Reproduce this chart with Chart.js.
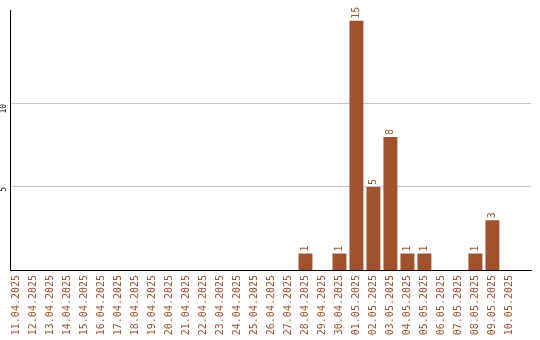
<!DOCTYPE html>
<html>
<head>
<meta charset="utf-8">
<script src="https://cdn.jsdelivr.net/npm/chart.js@4.4.1/dist/chart.umd.min.js"></script>
<style>
  html, body { margin: 0; padding: 0; background: #fff; }
  #wrap { width: 540px; height: 340px; }
</style>
</head>
<body>
<div id="wrap"><canvas id="barChart"></canvas></div>
<script>
const dates = [
    '11.04.2025', '12.04.2025', '13.04.2025', '14.04.2025', '15.04.2025',
    '16.04.2025', '17.04.2025', '18.04.2025', '19.04.2025', '20.04.2025',
    '21.04.2025', '22.04.2025', '23.04.2025', '24.04.2025', '25.04.2025',
    '26.04.2025', '27.04.2025', '28.04.2025', '29.04.2025', '30.04.2025',
    '01.05.2025', '02.05.2025', '03.05.2025', '04.05.2025', '05.05.2025',
    '06.05.2025', '07.05.2025', '08.05.2025', '09.05.2025', '10.05.2025'
];
const counts = [
    0, 0, 0, 0, 0, 0, 0, 0, 0, 0,
    0, 0, 0, 0, 0, 0, 0, 1, 0, 1,
    15, 5, 8, 1, 1, 0, 0, 1, 3, 0
];
const yTicks = [5, 10];

const brown = '#a0522d';

// value labels above the bars, rotated like the axis labels
const barLabels = {
    id: 'barLabels',
    afterDatasetsDraw(chart) {
        const ctx = chart.ctx;
        const meta = chart.getDatasetMeta(0);
        ctx.save();
        ctx.fillStyle = brown;
        ctx.font = '10px "DejaVu Sans Mono"';
        ctx.textAlign = 'left';
        ctx.textBaseline = 'middle';
        meta.data.forEach((bar, i) => {
            if (!counts[i]) return;
            ctx.save();
            ctx.translate(bar.x, bar.y - 2);
            ctx.rotate(-Math.PI / 2);
            ctx.fillText(String(counts[i]), 0, 0);
            ctx.restore();
        });
        ctx.restore();
    }
};

window.onload = function() {
    const ctx = document.getElementById('barChart').getContext('2d');
    new Chart(ctx, {
        type: 'bar',
        data: {
            datasets: [{
                data: counts.map((c, i) => ({ x: i, y: c })),
                backgroundColor: brown,
                borderWidth: 0,
                barPercentage: 1,
                categoryPercentage: 0.82
            }]
        },
        options: {
            responsive: true,
            maintainAspectRatio: false,
            animation: false,
            layout: { padding: { top: 10, right: 9, left: 0, bottom: 0 } },
            plugins: {
                legend: { display: false },
                tooltip: { enabled: false }
            },
            scales: {
                x: {
                    type: 'linear',
                    offset: false,
                    min: -0.38,
                    max: 30.27,
                    afterBuildTicks: s => { s.ticks = dates.map((d, i) => ({ value: i })); },
                    afterFit: s => {
                        s.height = 70;
                        s.paddingLeft = 0;
                        s.paddingRight = 0;
                    },
                    grid: { display: false, drawTicks: false, offset: false },
                    border: { display: true, color: '#000', width: 1 },
                    ticks: {
                        autoSkip: false,
                        minRotation: 90,
                        maxRotation: 90,
                        padding: 5,
                        color: brown,
                        font: { family: 'DejaVu Sans Mono', size: 10 },
                        callback: v => dates[v] || ''
                    }
                },
                y: {
                    min: 0,
                    max: 15.6,
                    afterBuildTicks: s => { s.ticks = yTicks.map(v => ({ value: v })); },
                    afterFit: s => { s.width = 10; },
                    grid: { color: '#c8c8c8', drawTicks: false },
                    border: { display: true, color: '#000', width: 1 },
                    ticks: {
                        minRotation: 90,
                        maxRotation: 90,
                        padding: 6,
                        color: '#000',
                        font: { family: 'DejaVu Sans Mono', size: 8 }
                    }
                }
            }
        },
        plugins: [barLabels]
    });
};
</script>
</body>
</html>
